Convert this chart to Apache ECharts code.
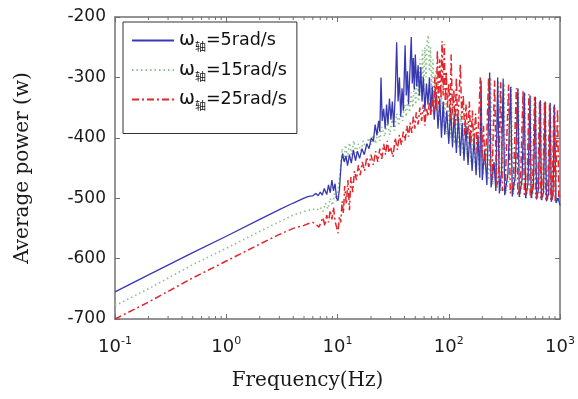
<!DOCTYPE html>
<html><head><meta charset="utf-8">
<script src="https://cdn.jsdelivr.net/npm/echarts@6/dist/echarts.min.js"></script>
<style>html,body{margin:0;padding:0;background:#fff}#c{width:578px;height:399px}</style>
</head><body><div id="c"></div>
<script>
// ---- data ----
const seriesNames = ['ω轴=5rad/s', 'ω轴=15rad/s', 'ω轴=25rad/s'];
const xRange = [0.1, 1000];
const yRange = [-700, -200];
const minorTicks = [0.2,0.3,0.4,0.5,0.6,0.7,0.8,0.9, 2,3,4,5,6,7,8,9, 20,30,40,50,60,70,80,90, 200,300,400,500,600,700,800,900];

// [frequency Hz, average power W]
const blue = [
[0.1,-655],[0.2,-627],[0.5,-590],[1,-563],[2,-535],[3,-519],[4,-508],[5,-500],[5.5,-497],[6,-496],
[6.4,-492],[6.7,-496],[7,-490],[7.3,-495],[7.6,-484],[8,-494],[8.3,-478],[8.6,-491],[8.9,-470],[9.2,-488],
[9.5,-476],[9.8,-500],[10.1,-504],[10.4,-486],[10.8,-440],[11.1,-426],[11.5,-440],[11.9,-430],[12.3,-446],[12.8,-428],
[13.3,-442],[13.9,-420],[14.5,-438],[15.1,-422],[15.8,-434],[16.6,-418],[17.4,-428],[18.3,-410],[19.2,-418],[20.1,-400],
[21,-406],[21.8,-378],[22.6,-396],[23.4,-372],[24,-390],[24.6,-300],[25.2,-372],[26,-352],[26.8,-385],[27.6,-345],
[28.4,-378],[29.3,-335],[30.2,-370],[31.1,-340],[32,-382],[33,-330],[34,-242],[35,-340],[36,-300],[37,-365],
[38,-318],[39,-355],[40.5,-247],[41.5,-330],[42.5,-290],[43.5,-345],[44.5,-300],[46,-233],[47,-310],[48,-268],
[49,-320],[50,-262],[51.5,-315],[53,-280],[54.5,-330],[56,-283],[57.5,-340],[59,-300],[61,-355],[63,-310],
[65,-345],[67,-300],[69,-360],[71,-315],[74,-370],[77,-325],[80,-385],[83,-335],[86,-400],[89,-340],
[92,-395],[96,-355],[100,-410],[104,-350],[108,-416],[112,-360],[117,-425],[122,-365],[127,-430],[132,-375],
[137,-438],[143,-380],[149,-445],[155,-390],[162,-455],[169,-400],[176,-462],[183,-395],[190,-466],[195,-305],
[200,-470],[210,-420],[220,-478],[233,-292],[240,-482],[255,-440],[265,-488],[275,-300],[285,-492],[298,-455],
[308,-302],[318,-495],[340,-460],[360,-316],[372,-497],[395,-465],[418,-318],[430,-498],[455,-470],[477,-325],
[490,-500],[515,-475],[537,-330],[550,-500],[575,-480],[600,-332],[615,-502],[640,-485],[665,-338],[680,-503],
[710,-490],[735,-340],[755,-505],[790,-492],[815,-342],[835,-506],[865,-495],[890,-345],[920,-508],[960,-500],[1000,-512]
];

const green = [
[0.1,-678],[0.2,-650],[0.5,-610],[1,-583],[2,-555],[3,-539],[4,-528],[5,-522],[6,-518],[6.5,-520],
[7,-515],[7.4,-522],[7.8,-508],[8.2,-518],[8.6,-500],[9,-512],[9.4,-492],[9.8,-505],[10.2,-480],[10.6,-455],
[11,-418],[11.4,-440],[11.8,-412],[12.3,-432],[12.8,-408],[13.4,-428],[14,-405],[14.7,-425],[15.4,-410],[16.2,-422],
[17,-405],[18,-418],[19,-400],[20,-412],[21,-395],[22,-410],[23,-388],[24,-405],[25,-382],[26.5,-398],
[28,-375],[29.5,-395],[31,-370],[32.5,-388],[34,-360],[35.5,-380],[37,-352],[38.5,-372],[40,-345],[41.5,-365],
[43,-335],[44.5,-358],[46,-325],[47.5,-350],[49,-310],[50.5,-345],[52,-290],[53.5,-340],[55,-270],[56.5,-330],
[58,-255],[59.5,-320],[61,-250],[62.5,-300],[64,-240],[65.5,-230],[67,-290],[68.5,-250],[70,-320],[72,-270],
[74,-340],[76,-290],[78,-355],[80,-310],[83,-370],[86,-330],[89,-380],[92,-340],[96,-395],[100,-345],
[104,-400],[108,-350],[113,-410],[118,-355],[123,-418],[128,-360],[134,-425],[140,-370],[146,-432],[152,-375],
[159,-440],[166,-385],[173,-448],[180,-390],[188,-455],[193,-310],[202,-462],[215,-410],[228,-470],[238,-300],
[248,-478],[262,-440],[272,-485],[280,-305],[290,-490],[305,-455],[314,-310],[325,-493],[350,-465],[365,-315],
[378,-496],[400,-470],[422,-320],[435,-498],[460,-475],[483,-325],[495,-500],[520,-480],[544,-330],[557,-501],
[580,-485],[607,-335],[620,-502],[648,-490],[672,-340],[688,-503],[715,-493],[743,-342],[760,-504],[795,-495],
[822,-345],[840,-505],[870,-497],[898,-348],[915,-506],[960,-500],[1000,-505]
];

const red = [
[0.1,-700],[0.2,-672],[0.5,-632],[1,-604],[2,-576],[3,-560],[4,-550],[5,-545],[5.5,-542],[6,-540],
[6.4,-543],[6.8,-548],[7.1,-540],[7.4,-532],[7.7,-546],[8,-528],[8.3,-540],[8.6,-520],[8.9,-535],[9.2,-515],
[9.5,-538],[9.8,-548],[10.1,-558],[10.4,-530],[10.7,-540],[11,-505],[11.3,-525],[11.6,-480],[12,-510],[12.4,-470],
[12.8,-520],[13.2,-465],[13.7,-490],[14.2,-455],[14.8,-470],[15.4,-445],[16,-462],[16.7,-440],[17.5,-455],[18.3,-432],
[19.1,-448],[20,-428],[21,-445],[22,-422],[23,-440],[24,-418],[25,-435],[26,-410],[27,-428],[28,-405],
[29,-425],[30,-415],[31.5,-432],[33,-400],[34.5,-420],[36,-395],[37.5,-412],[39,-390],[40.5,-405],[42,-380],
[43.5,-398],[45,-375],[46.5,-392],[48,-365],[49.5,-385],[51,-358],[53,-378],[55,-350],[57,-372],[59,-345],
[61,-380],[63,-350],[65,-365],[67,-340],[69,-362],[71,-330],[73,-360],[75,-300],[77,-355],[79,-255],
[81,-345],[83,-270],[85,-335],[87,-240],[89,-330],[91,-245],[93,-340],[95,-290],[97,-350],[100,-310],
[103,-370],[105,-262],[108,-360],[111,-320],[114,-380],[117,-300],[120,-375],[124,-330],[127,-278],[131,-370],
[135,-330],[139,-395],[143,-345],[148,-400],[153,-340],[158,-410],[163,-355],[168,-415],[174,-360],[180,-425],
[186,-365],[192,-300],[198,-435],[205,-380],[212,-445],[220,-390],[228,-300],[236,-455],[245,-470],[258,-305],
[268,-480],[280,-470],[293,-308],[303,-488],[322,-475],[345,-312],[357,-492],[380,-478],[405,-318],[417,-495],
[440,-480],[465,-322],[478,-497],[505,-485],[525,-328],[540,-498],[565,-488],[590,-332],[605,-500],[630,-490],
[655,-338],[670,-500],[700,-492],[725,-340],[745,-502],[775,-494],[805,-345],[825,-503],[850,-496],[880,-348],[905,-505],[950,-352],[975,-500],[1000,-495]
];

// ---- chart ----
const AX = '#707070';
const chart = echarts.init(document.getElementById('c'), null, {renderer: 'canvas'});
const tickFont = {fontFamily: 'DejaVu Sans', fontSize: 17, color: '#1a1a1a'};

const xBase = {
  type: 'log', logBase: 10, min: xRange[0], max: xRange[1],
  axisLine: {show: true, lineStyle: {color: AX, width: 1.5}},
  axisTick: {show: true, inside: true, length: 5, lineStyle: {color: AX}},
  splitLine: {show: false}
};
const yBase = {
  type: 'value', min: yRange[0], max: yRange[1], interval: 100,
  axisLine: {show: true, lineStyle: {color: AX, width: 1.5}},
  axisTick: {show: true, inside: true, length: 5, lineStyle: {color: AX}},
  splitLine: {show: false}
};

chart.setOption({
  animation: false,
  backgroundColor: '#fff',
  grid: {left: 115, right: 15, top: 17, bottom: 80, containLabel: false},
  legend: {
    data: seriesNames,
    orient: 'vertical', left: 123, top: 22,
    backgroundColor: '#fff', borderColor: '#333', borderWidth: 1,
    padding: [9, 10, 22, 8], itemGap: 8,
    itemWidth: 42, itemHeight: 14,
    itemStyle: {opacity: 0},
    formatter: n => '{w|ω}{s|轴}{t|' + n.replace('ω轴', '') + '}',
    textStyle: {
      rich: {
        w: {fontFamily: 'DejaVu Sans', fontSize: 19, color: '#111'},
        s: {fontFamily: 'Noto Sans CJK SC', fontSize: 11, color: '#111', padding: [13, 0, 0, 0]},
        t: {fontFamily: 'DejaVu Sans', fontSize: 17.5, color: '#111'}
      }
    }
  },
  xAxis: [
    Object.assign({}, xBase, {
      position: 'bottom',
      name: 'Frequency(Hz)', nameLocation: 'middle', nameGap: 52,
      nameTextStyle: {fontFamily: 'DejaVu Serif', fontSize: 20, color: '#1a1a1a', padding: [0, 60, 0, 0]},
      axisLabel: {
        margin: 17,
        formatter: v => '{b|10}{e|' + Math.round(Math.log10(v)) + '}',
        rich: {
          b: {fontFamily: 'DejaVu Sans', fontSize: 18, color: '#1a1a1a'},
          e: {fontFamily: 'DejaVu Sans', fontSize: 11, color: '#1a1a1a', padding: [0, 0, 12, 0]}
        }
      }
    }),
    Object.assign({}, xBase, {position: 'top', axisLabel: {show: false}})
  ],
  yAxis: [
    Object.assign({}, yBase, {
      position: 'left',
      name: 'Average power (w)', nameLocation: 'middle', nameGap: 82,
      nameTextStyle: {fontFamily: 'DejaVu Serif', fontSize: 20, color: '#1a1a1a'},
      axisLabel: Object.assign({margin: 9}, tickFont)
    }),
    Object.assign({}, yBase, {position: 'right', axisLabel: {show: false}})
  ],
  series: [
    {type: 'line', name: seriesNames[0], data: blue, symbol: 'none', z: 3,
     lineStyle: {color: '#3838b0', width: 1.3}, itemStyle: {color: '#3838b0'}},
    {type: 'line', name: seriesNames[1], data: green, symbol: 'none', z: 2,
     lineStyle: {color: '#8cbf8c', width: 1.6, type: [1.5, 3]}, itemStyle: {color: '#8cbf8c'}},
    {type: 'line', name: seriesNames[2], data: red, symbol: 'none', z: 4,
     lineStyle: {color: '#e3262b', width: 1.5, type: [7, 3, 2, 3]}, itemStyle: {color: '#e3262b'}},
    {type: 'custom', name: 'minorTicks', silent: true, z: 6, clip: false,
     data: minorTicks.map(f => [f, yRange[0]]),
     renderItem: (params, api) => {
       const f = api.value(0);
       const b = api.coord([f, yRange[0]]);
       const t = api.coord([f, yRange[1]]);
       return {type: 'group', children: [
         {type: 'line', shape: {x1: b[0], y1: b[1], x2: b[0], y2: b[1] - 3}, style: {stroke: AX, lineWidth: 1}},
         {type: 'line', shape: {x1: t[0], y1: t[1], x2: t[0], y2: t[1] + 3}, style: {stroke: AX, lineWidth: 1}}
       ]};
     }}
  ]
});
</script></body></html>
